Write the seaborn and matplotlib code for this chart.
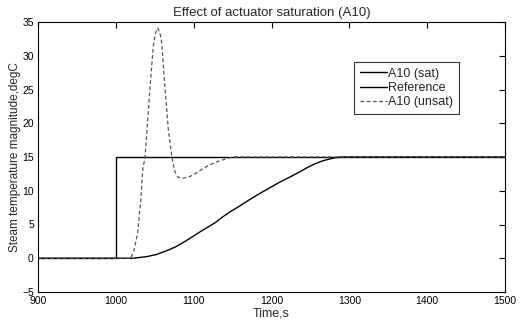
import numpy as np
import pandas as pd
import matplotlib
matplotlib.use("Agg")
import matplotlib.pyplot as plt
import seaborn as sns

# Reference step (setpoint change at t=1000 s)
ref_t = [900, 1000, 1000, 1500]
ref_v = [0, 0, 15, 15]

# A10 with actuator saturation (slow response)
sat_t = [900, 1020, 1026, 1040, 1052, 1065, 1077, 1089, 1100, 1108, 1118, 1128, 1137,
         1147, 1160, 1172, 1185, 1198, 1211, 1224, 1237, 1247, 1256, 1265, 1273,
         1281, 1290, 1500]
sat_v = [0, 0, 0.05, 0.25, 0.55, 1.1, 1.7, 2.5, 3.3, 3.9, 4.6, 5.3, 6.1,
         6.9, 7.8, 8.7, 9.6, 10.45, 11.3, 12.05, 12.85, 13.5, 14.0, 14.4, 14.66,
         14.87, 15.0, 15.0]

# A10 without saturation (overshoot)
unsat_t = [900, 1019, 1023, 1028, 1032, 1034.5, 1037.5, 1041, 1044, 1048, 1051, 1054,
           1057, 1059, 1063, 1067.5, 1072, 1076, 1080, 1086, 1095, 1103, 1112, 1120,
           1130, 1137, 1145, 1152, 1500]
unsat_v = [0, 0, 1.0, 3.7, 8.6, 13.1, 15.0, 20.5, 25.4, 31.3, 33.4, 34.1,
           33.2, 31.8, 25.4, 19.0, 15.0, 12.8, 12.0, 11.85, 12.1, 12.6, 13.3, 13.8,
           14.3, 14.55, 14.85, 15.0, 15.0]

sns.set_style("white")
plt.rcParams['font.family'] = ['Liberation Sans', 'DejaVu Sans']

fig = plt.figure(figsize=(5.26, 3.24), dpi=100)
ax = fig.add_axes([38/526, 32/324, 467/526, 270/324])

sns.lineplot(x=sat_t, y=sat_v, ax=ax, color='black', lw=1.0, sort=False,
             estimator=None, label='A10 (sat)')
sns.lineplot(x=ref_t, y=ref_v, ax=ax, color='black', lw=1.0, sort=False,
             estimator=None, label='Reference')
sns.lineplot(x=unsat_t, y=unsat_v, ax=ax, color='#555555', lw=0.9, sort=False,
             estimator=None, label='A10 (unsat)', linestyle=(0, (3, 2)))

ax.set_xlim(900, 1500)
ax.set_ylim(-5, 35)
ax.set_xticks(range(900, 1501, 100))
ax.set_yticks(range(-5, 36, 5))
ax.tick_params(direction='in', length=4, width=0.8, labelsize=7.5,
               top=True, right=True, colors='black', pad=3)
for s in ax.spines.values():
    s.set_color('black')
    s.set_linewidth(0.8)

ax.set_title('Effect of actuator saturation (A10)', fontsize=9.5, pad=4)
ax.set_xlabel('Time,s', fontsize=9, labelpad=1)
ax.set_ylabel('Steam temperature magnitude,degC', fontsize=8.5, labelpad=1)

leg = ax.legend(loc='upper left', bbox_to_anchor=(316/467, (292-62)/270),
                fontsize=9, frameon=True, fancybox=False, handlelength=2.2,
                handletextpad=0.1, borderpad=0.45, labelspacing=0.18,
                borderaxespad=0)
leg.get_frame().set_edgecolor('black')
leg.get_frame().set_linewidth(0.8)

fig.savefig('out.png', dpi=100, facecolor='white')
